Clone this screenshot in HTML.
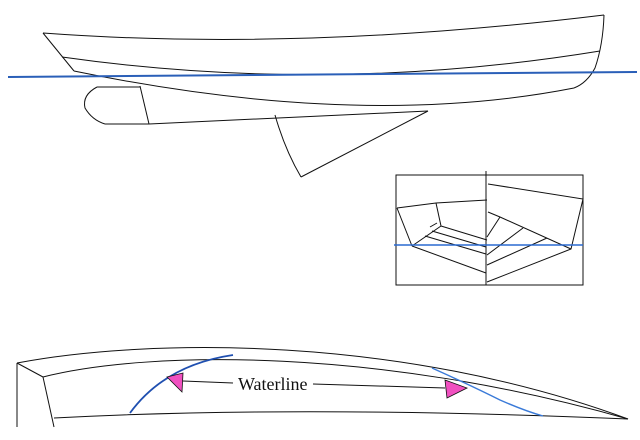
<!DOCTYPE html>
<html><head><style>html,body{margin:0;padding:0;background:#fff}svg{display:block}</style></head>
<body>
<svg width="640" height="440" viewBox="0 0 640 440" xmlns="http://www.w3.org/2000/svg">
<g fill="none" stroke="#111" stroke-width="1">
<path d="M43,33 Q300,52 604,15"/>
<path d="M62,57 Q330,95 600,51"/>
<path d="M74,71 Q360,130 574,88"/>
<path d="M604,15 Q603,45 595,68 Q587,83 574,88"/>
<path d="M43,33 L74,71"/>
<path d="M97,87 L140,87"/>
<path d="M97,87 Q82,95 85,108 Q92,120 105,124"/>
<path d="M105,124 L149,124"/>
<path d="M140,86 L149,124"/>
<path d="M149,124 L428,111"/>
<path d="M428,111 L301,177"/>
<path d="M275,115 Q285,150 301,177"/>
<rect x="396" y="175" width="187" height="110"/>
<path d="M486,171 L486,285"/>
<path d="M397,208 L436,203 L487,200"/>
<path d="M397,208 L412,246"/>
<path d="M436,203 L441,226"/>
<path d="M441,226 L487,240"/>
<path d="M441,226 L412,246"/>
<path d="M412,246 L486,273"/>
<path d="M425,236 L486,254"/>
<path d="M432,231 L486,247"/>
<path d="M430,227 L437,223"/>
<path d="M488,184 L583,199 L571,249 L487,282"/>
<path d="M488,212 L500,217 L571,249"/>
<path d="M500,217 L487,237"/>
<path d="M523,228 L487,255"/>
<path d="M547,238 L487,265"/>
<path d="M17,363 C150,338 400,335 628,419"/>
<path d="M43,377 C150,350 380,348 628,419"/>
<path d="M54,418 Q300,405 628,419"/>
<path d="M17,363 L17,427"/>
<path d="M17,363 L43,377"/>
<path d="M43,377 L54,427"/>
<path d="M183,381 L233,383"/>
<path d="M313,384 L445,388"/>
</g>
<path d="M8,77 L637,72" stroke="#2a5fb8" stroke-width="2" fill="none"/>
<path d="M394,245 L583,245" stroke="#2a6ad0" stroke-width="1.5" fill="none"/>
<path d="M130,413 Q165,365 233,355" stroke="#1f4fb0" stroke-width="1.8" fill="none"/>
<path d="M432,368 Q470,385 500,400 Q525,411 543,416" stroke="#3a7ad8" stroke-width="1.4" fill="none"/>
<polygon points="167,377 183,373 182,392" fill="#f050c0" stroke="#111" stroke-width="0.8"/>
<polygon points="445,380 467,388 447,398" fill="#f050c0" stroke="#111" stroke-width="0.8"/>
<text x="238" y="390" font-family="Liberation Serif, serif" font-size="18" fill="#111">Waterline</text>
</svg>
</body></html>
